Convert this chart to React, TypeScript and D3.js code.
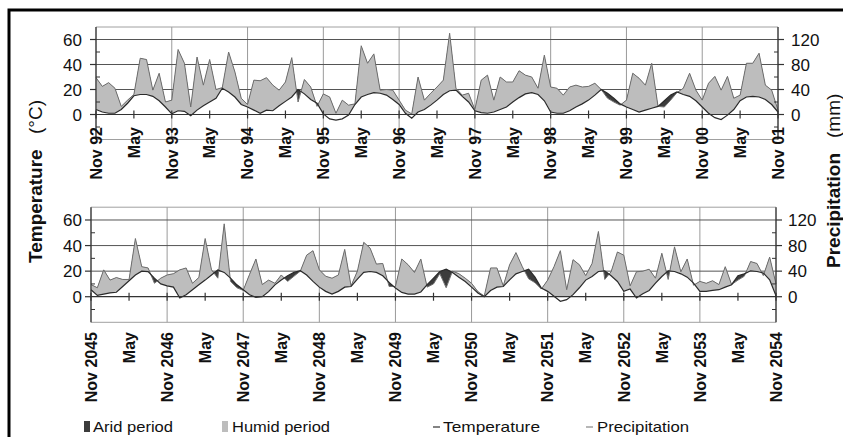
import React from 'react';
import * as d3 from 'd3';

// ---- data (monthly, Nov..Nov) ----
const topTemp = [4,2,1,1,4,9,15,16,16,14.5,11,6,0.5,3,2.5,-1,3.5,7,10,13,21,18,14,8,6,3.5,1,3.5,3,7,10.5,14,20,16.5,12,9,0.5,-3.5,-4.5,-3.5,-0.5,8,14,16,17.5,17,15.5,12,8,1,-3,2,4,7.5,11.5,16,19,19.5,14.5,10,3,1.5,1,2,4,6,10,13.5,16.5,17.5,16,11,2,1,1,3,6,8.5,11.5,15.5,20,17,13,8.5,6,4,2,3.5,5,6.5,11,15.5,18,16,14.5,11,6,1,-2.5,-4,-0.5,4,11,14,14.5,14,12,8,2];
const topPrecip = [59,45,51,42,13,23,32,90,88,39,66,20,23,104,82,12,92,47,88,40,43,100,68,26,16,55,54,59,47,39,52,91,20,56,44,13,33,28,2,23,15,17,110,82,97,39,40,39,23,7,1,60,23,34,44,55,130,42,31,34,8,55,63,23,60,52,52,70,63,60,42,95,44,42,31,44,47,44,45,50,40,26,20,15,23,66,58,47,82,13,12,23,35,42,66,39,23,50,61,39,61,26,31,82,82,98,47,39,7];
const botTemp = [5.5,1,2,3,3.5,8,12.5,17,20,19.7,14.5,10,8.5,7.5,-1,1.5,5.5,9.3,13,17,21,19,14.5,9.3,5.5,1.5,-0.5,0,4,9.3,13,16.4,19,20.3,17,12,7.5,4.2,2.1,4.2,7.5,8,13.8,19,19.7,19,16.4,11.2,6.8,3.4,2.1,2.1,3.7,9.4,14.5,19.7,21.6,19,15.3,11.9,7.5,2.9,0,4.9,7.5,8,13.2,17.9,19.7,21.6,15.3,6.8,4.2,0.4,-3.6,-2.3,1.6,7,13,15.8,19.7,20.3,16.4,11.9,4.2,6,-1,2.3,4.9,10.6,15.8,20.3,19.7,17.9,15.3,10.6,4.2,4.2,4.9,5.5,7.5,9.4,16.4,17.9,20.3,19.7,18.6,13.2,0.8];
const botPrecip = [19,14,42,26,30,27,27,91,47,45,21,29,34,36,42,45,21,30,91,42,29,114,24,14,10,35,59,19,26,21,34,24,32,40,65,72,42,32,29,34,74,17,40,85,76,51,52,16,16,59,50,38,59,15,20,36,14,40,36,29,21,8,1,45,45,17,50,69,47,28,22,12,26,47,72,11,58,50,33,52,102,27,39,70,65,17,39,40,43,29,68,27,78,39,59,18,24,21,25,19,47,19,26,32,55,52,33,62,20];

const topLabels = ['Nov 92','May','Nov 93','May','Nov 94','May','Nov 95','May','Nov 96','May','Nov 97','May','Nov 98','May','Nov 99','May','Nov 00','May','Nov 01'];
const botLabels = ['Nov 2045','May','Nov 2046','May','Nov 2047','May','Nov 2048','May','Nov 2049','May','Nov 2050','May','Nov 2051','May','Nov 2052','May','Nov 2053','May','Nov 2054'];
const leftTicks = [60, 40, 20, 0];
const leftMinor = [50, 30, 10, -10];
const rightTicks = [120, 80, 40, 0];
const rightMinor = [100, 60, 20, -20];
const gridTemps = [60, 40, 20];

const FONT = "'Liberation Sans', Arial, sans-serif";
const HUMID = '#bdbdbd';
const ARID = '#3c3c3c';

type PanelProps = {
  id: string; temp: number[]; precip: number[]; labels: string[];
  x0: number; x1: number; yTop: number; yBot: number; labelY: number;
  leftLabelX: number; rightLabelX: number;
};

function Panel(p: PanelProps) {
  const n = p.temp.length;
  const x = d3.scaleLinear().domain([0, n - 1]).range([p.x0, p.x1]);
  const y = d3.scaleLinear().domain([-20, 70]).range([p.yBot, p.yTop]);
  const yp = d3.scaleLinear().domain([-40, 140]).range([p.yBot, p.yTop]);
  const idx = d3.range(n);
  const band = d3.area<number>().x(i => x(i)).y0(i => y(p.temp[i])).y1(i => yp(p.precip[i]))(idx) || '';
  const aboveT = d3.area<number>().x(i => x(i)).y0(i => y(p.temp[i])).y1(p.yTop - 20)(idx) || '';
  const aboveP = d3.area<number>().x(i => x(i)).y0(i => yp(p.precip[i])).y1(p.yTop - 20)(idx) || '';
  const tLine = d3.line<number>().x(i => x(i)).y(i => y(p.temp[i]))(idx) || '';
  const pLine = d3.line<number>().x(i => x(i)).y(i => yp(p.precip[i]))(idx) || '';
  const tickIdx = p.labels.map((_, k) => k * 6);
  const y0 = y(0);
  return (
    <g>
      <defs>
        <clipPath id={p.id + 'aT'}><path d={aboveT} /></clipPath>
        <clipPath id={p.id + 'aP'}><path d={aboveP} /></clipPath>
        <clipPath id={p.id + 'z'}><rect x={p.x0} y={p.yTop - 20} width={p.x1 - p.x0} height={y0 - p.yTop + 20} /></clipPath>
      </defs>
      {/* vertical gridlines */}
      {tickIdx.filter((_, k) => k % 2 === 0).map(i => (
        <line key={'vg' + i} x1={x(i)} x2={x(i)} y1={p.yTop} y2={p.yBot} stroke="#9a9a9a" strokeWidth={1} />
      ))}
      {/* horizontal gridlines */}
      {gridTemps.map(t => (
        <line key={'hg' + t} x1={p.x0} x2={p.x1} y1={y(t)} y2={y(t)} stroke="#555" strokeWidth={1} />
      ))}
      <line x1={p.x0} x2={p.x1} y1={p.yTop} y2={p.yTop} stroke="#a0a0a0" strokeWidth={1} />
      <line x1={p.x0} x2={p.x1} y1={p.yBot} y2={p.yBot} stroke="#a0a0a0" strokeWidth={1} />
      {/* fills */}
      <g clipPath={`url(#${p.id}z)`}>
        <g clipPath={`url(#${p.id}aT)`}>
          <path d={band} fill={HUMID} />
        </g>
      </g>
      <g clipPath={`url(#${p.id}aP)`}>
        <path d={band} fill={ARID} />
      </g>
      <path d={pLine} fill="none" stroke="#6e6e6e" strokeWidth={1} />
      <path d={tLine} fill="none" stroke="#2a2a2a" strokeWidth={1.2} />
      {/* zero axis */}
      <line x1={p.x0} x2={p.x1} y1={y0} y2={y0} stroke="#333" strokeWidth={1.2} />
      {tickIdx.map(i => (
        <line key={'xt' + i} x1={x(i)} x2={x(i)} y1={y0 - 4} y2={y0 + 4} stroke="#333" strokeWidth={1.2} />
      ))}
      {/* left axis */}
      <line x1={p.x0} x2={p.x0} y1={p.yTop} y2={p.yBot} stroke="#333" strokeWidth={1.2} />
      {leftTicks.map(t => (
        <g key={'lt' + t}>
          <line x1={p.x0 - 6} x2={p.x0} y1={y(t)} y2={y(t)} stroke="#333" strokeWidth={1.2} />
          <text x={p.leftLabelX} y={y(t)} dy="0.36em" textAnchor="end" fontSize={17} fontFamily={FONT} fill="#111">{t}</text>
        </g>
      ))}
      {leftMinor.map(t => (
        <line key={'lm' + t} x1={p.x0} x2={p.x0 + 4} y1={y(t)} y2={y(t)} stroke="#333" strokeWidth={1} />
      ))}
      {/* right axis */}
      <line x1={p.x1} x2={p.x1} y1={p.yTop} y2={p.yBot} stroke="#333" strokeWidth={1.2} />
      {rightTicks.map(t => (
        <g key={'rt' + t}>
          <line x1={p.x1} x2={p.x1 + 6} y1={yp(t)} y2={yp(t)} stroke="#333" strokeWidth={1.2} />
          <text x={p.rightLabelX} y={yp(t)} dy="0.36em" textAnchor="start" fontSize={17} fontFamily={FONT} fill="#111">{t}</text>
        </g>
      ))}
      {rightMinor.map(t => (
        <line key={'rm' + t} x1={p.x1 - 4} x2={p.x1} y1={yp(t)} y2={yp(t)} stroke="#333" strokeWidth={1} />
      ))}
      {/* x labels */}
      {p.labels.map((lab, k) => (
        <text key={'xl' + k} transform={`translate(${x(k * 6)},${p.labelY}) rotate(-90)`} dy="0.36em"
          textAnchor="end" fontSize={16} fontWeight="bold" fontFamily={FONT} fill="#111">{lab}</text>
      ))}
    </g>
  );
}

export default function App() {
  return (
    <svg width={843} height={437} style={{ position: 'absolute', left: 0, top: 0, background: '#fff' }}>
      <rect x={0} y={0} width={843} height={437} fill="#fff" />
      <rect x={9} y={10} width={850} height={450} fill="none" stroke="#000" strokeWidth={3} />
      <Panel id="top" temp={topTemp} precip={topPrecip} labels={topLabels}
        x0={96} x1={778} yTop={27} yBot={139.5} labelY={127} leftLabelX={82} rightLabelX={791} />
      <Panel id="bot" temp={botTemp} precip={botPrecip} labels={botLabels}
        x0={91} x1={776} yTop={207.2} yBot={322.3} labelY={332} leftLabelX={82} rightLabelX={788} />
      {/* axis titles */}
      <text transform="translate(42,263) rotate(-90)" fontSize={19} fontWeight="bold" fontFamily={FONT} fill="#111">Temperature</text>
      <text transform="translate(42,134) rotate(-90)" fontSize={19} fontFamily={FONT} fill="#111">(°C)</text>
      <text transform="translate(840,268) rotate(-90)" fontSize={19} fontWeight="bold" fontFamily={FONT} fill="#111">Precipitation</text>
      <text transform="translate(840,138) rotate(-90)" fontSize={19} fontFamily={FONT} fill="#111">(mm)</text>
      {/* legend */}
      <rect x={84} y={421} width={6} height={11} fill={ARID} />
      <text x={93} y={432} fontSize={15} fontFamily={FONT} fill="#111" textLength={80} lengthAdjust="spacingAndGlyphs">Arid period</text>
      <rect x={222} y={421} width={6} height={11} fill={HUMID} />
      <text x={232} y={432} fontSize={15} fontFamily={FONT} fill="#111" textLength={98} lengthAdjust="spacingAndGlyphs">Humid period</text>
      <line x1={433} x2={440} y1={427} y2={427} stroke="#333" strokeWidth={1.2} />
      <text x={443} y={432} fontSize={15} fontFamily={FONT} fill="#111" textLength={97} lengthAdjust="spacingAndGlyphs">Temperature</text>
      <line x1={586} x2={593} y1={427} y2={427} stroke="#888" strokeWidth={1.2} />
      <text x={597} y={432} fontSize={15} fontFamily={FONT} fill="#111" textLength={92} lengthAdjust="spacingAndGlyphs">Precipitation</text>
    </svg>
  );
}
